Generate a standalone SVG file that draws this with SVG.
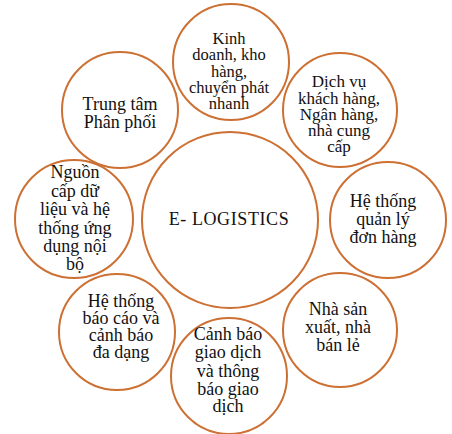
<svg xmlns="http://www.w3.org/2000/svg" width="452" height="434" viewBox="0 0 452 434">
<style>
.c{fill:#fff;stroke:#CC7033;stroke-width:2}
text{font-family:'Liberation Serif','Times New Roman',Times,serif;font-size:18px;fill:#111;text-anchor:middle}
.m{letter-spacing:0.6px}
.s1{font-size:16.5px}
.s2{font-size:17px}
</style>
<rect width="452" height="434" fill="#fff"/>
<g id="connectors"/>
<g id="center">
<circle class="c" cx="230" cy="220" r="88"/>
<text class="m" x="229" y="225">E- LOGISTICS</text>
</g>
<g id="n-top">
<circle class="c" cx="231" cy="62" r="58"/>
<text class="s1"><tspan x="229" y="44">Kinh</tspan><tspan x="229" y="60">doanh, kho</tspan><tspan x="229" y="76.5">hàng,</tspan><tspan x="229" y="92.5">chuyển phát</tspan><tspan x="229" y="108.5">nhanh</tspan></text>
</g>
<g id="n-upper-right">
<circle class="c" cx="340" cy="110" r="57"/>
<text class="s2"><tspan x="339" y="87">Dịch vụ</tspan><tspan x="339" y="103.5">khách hàng,</tspan><tspan x="339" y="120">Ngân hàng,</tspan><tspan x="339" y="136">nhà cung</tspan><tspan x="339" y="152">cấp</tspan></text>
</g>
<g id="n-right">
<circle class="c" cx="388" cy="220" r="58"/>
<text><tspan x="383" y="207">Hệ thống</tspan><tspan x="383" y="225">quản lý</tspan><tspan x="383" y="243">đơn hàng</tspan></text>
</g>
<g id="n-lower-right">
<circle class="c" cx="340" cy="330" r="57"/>
<text><tspan x="338" y="315">Nhà sản</tspan><tspan x="338" y="333">xuất, nhà</tspan><tspan x="338" y="351">bán lẻ</tspan></text>
</g>
<g id="n-bottom">
<circle class="c" cx="229" cy="376" r="58"/>
<text><tspan x="228" y="340">Cảnh báo</tspan><tspan x="228" y="358">giao dịch</tspan><tspan x="228" y="376.5">và thông</tspan><tspan x="228" y="394.5">báo giao</tspan><tspan x="228" y="412">dịch</tspan></text>
</g>
<g id="n-lower-left">
<circle class="c" cx="117" cy="332" r="58"/>
<text><tspan x="121" y="307">Hệ thống</tspan><tspan x="121" y="324">báo cáo và</tspan><tspan x="121" y="341">cảnh báo</tspan><tspan x="121" y="358">đa dạng</tspan></text>
</g>
<g id="n-left">
<circle class="c" cx="74" cy="219" r="59"/>
<text><tspan x="75" y="178">Nguồn</tspan><tspan x="75" y="196.5">cấp dữ</tspan><tspan x="75" y="215">liệu  và hệ</tspan><tspan x="75" y="233.5">thống ứng</tspan><tspan x="75" y="252">dụng nội</tspan><tspan x="75" y="270">bộ</tspan></text>
</g>
<g id="n-upper-left">
<circle class="c" cx="120" cy="110" r="58"/>
<text><tspan x="120" y="110">Trung tâm</tspan><tspan x="120" y="128">Phân phối</tspan></text>
</g>
</svg>
